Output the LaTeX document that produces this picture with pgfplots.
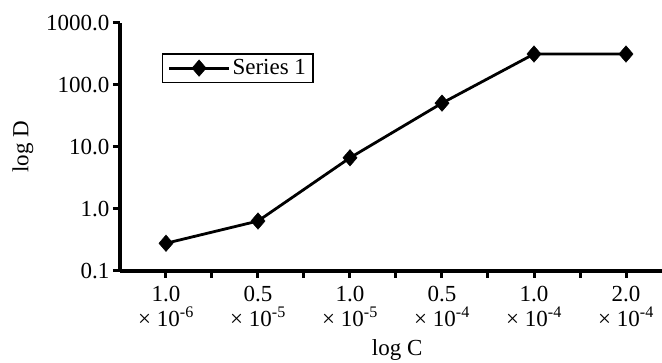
\documentclass[border=0pt]{standalone}
\usepackage{fontspec}
\setmainfont{Liberation Serif}
\usepackage{pgfplots}
\pgfplotsset{compat=1.18}
\begin{document}
\begin{tikzpicture}
\begin{axis}[
  at={(0,0)}, anchor=south west,
  scale only axis, width=552pt, height=248pt,
  ymode=log, ymin=0.1, ymax=1000,
  xmin=-0.5, xmax=5.5,
  axis x line=bottom, axis y line=left,
  axis line style={-, line width=3.5pt, black},
  tick align=outside,
  major tick length=7pt, minor tick length=7pt,
  every tick/.style={black, line width=3pt},
  xtick={0,1,2,3,4,5},
  minor xtick={0.5,1.5,2.5,3.5,4.5},
  xticklabels={{1.0\\× 10\textsuperscript{-6}},{0.5\\× 10\textsuperscript{-5}},{1.0\\× 10\textsuperscript{-5}},{0.5\\× 10\textsuperscript{-4}},{1.0\\× 10\textsuperscript{-4}},{2.0\\× 10\textsuperscript{-4}}},
  ytick={0.1,1,10,100,1000},
  yticklabels={0.1,1.0,10.0,100.0,1000.0},
  yminorticks=false,
  tick label style={font=\fontsize{23}{25}\selectfont},
  xticklabel style={align=center, anchor=north, yshift=-5pt},
  label style={font=\fontsize{23}{25}\selectfont},
  xlabel={log C},
  xlabel style={at={(axis description cs:0.502,0)}, anchor=base, yshift=-85pt},
  ylabel={log D},
  ylabel style={at={(axis description cs:-0.176,0.5)}, anchor=center},
  legend style={at={(axis description cs:0.076,0.879)}, anchor=north west,
    draw=black, line width=1.5pt, font=\fontsize{23}{25}\selectfont,
    inner xsep=5pt, inner ysep=4pt},
  legend image code/.code={\draw[#1, mark repeat=2, mark phase=2] plot coordinates {(0pt,0pt) (30pt,0pt) (60pt,0pt)};},
]
\addplot[black, line width=2.8pt, mark=diamond*, mark size=8.2pt,
  mark options={solid, fill=black, line width=0.5pt, xscale=1.15}]
  coordinates {(0,0.28) (1,0.64) (2,6.7) (3,51) (4,316) (5,316)};
\addlegendentry{Series 1}
\end{axis}
\pgfresetboundingbox
\useasboundingbox (-120pt,-92pt) rectangle (542pt,271pt);
\end{tikzpicture}
\end{document}
